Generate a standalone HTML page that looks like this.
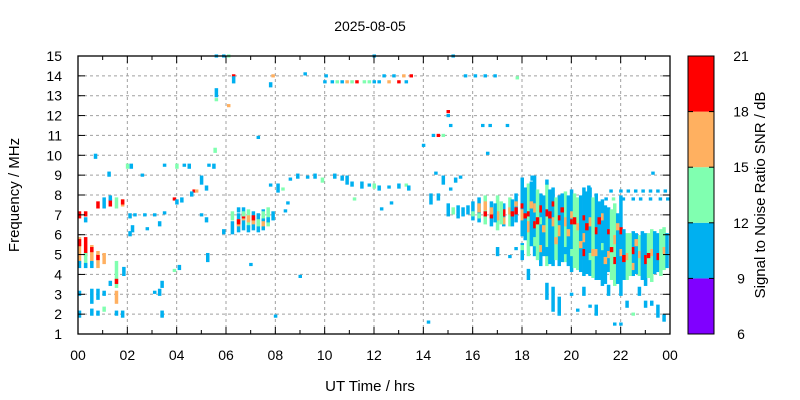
<!DOCTYPE html>
<html><head><meta charset="utf-8"><style>
body{margin:0;background:#fff;}
svg{display:block;font-family:"Liberation Sans",sans-serif;}
</style></head><body>
<svg id="chart" width="800" height="400" viewBox="0 0 800 400" xmlns="http://www.w3.org/2000/svg">
<text x="370" y="31" font-size="14" text-anchor="middle">2025-08-05</text>
<g id="grid"></g>
<g id="marks"></g>
<g id="axes"></g>
<text x="370" y="391" font-size="15" text-anchor="middle">UT Time / hrs</text>
<text transform="translate(19,195) rotate(-90)" font-size="15" text-anchor="middle">Frequency / MHz</text>
<g id="cbar"></g>
<text transform="translate(765,195) rotate(-90)" font-size="15" text-anchor="middle">Signal to Noise Ratio SNR / dB</text>
</svg>
<script>
const xTicks=["00","02","04","06","08","10","12","14","16","18","20","22","00"];
const yTicks=[1,2,3,4,5,6,7,8,9,10,11,12,13,14,15];
const cbTicks=[6,9,12,15,18,21];
const cbColors=["#8000ff","#00b0f0","#80ffb0","#ffb060","#ff0000"];
// marks: [hour, freqLow MHz, freqHigh MHz, snr dB]
const marks=[
[0.05,6.9,7.1,19],[0.05,4.6,5.8,15],[0.05,4.4,4.6,10],[0.05,3.0,3.1,10],[0.05,1.9,2.1,10],[0.05,5.5,5.7,19],
[0.3,5.0,5.8,19],[0.3,4.4,5.0,14],[0.3,6.7,6.8,10],[0.3,7.0,7.1,19],[0.3,4.4,4.5,10],
[0.55,4.6,5.4,17],[0.55,5.2,5.3,19],[0.55,4.4,4.6,10],[0.55,2.6,3.2,10],[0.55,2.0,2.2,10],
[0.8,7.4,7.6,19],[0.8,4.4,5.1,15],[0.8,4.8,4.9,19],[0.8,2.8,3.2,10],[0.8,2.0,2.1,10],[0.7,9.9,10.0,10],
[1.05,7.4,7.8,10],[1.05,4.6,5.0,16],[1.05,3.0,3.1,10],[1.05,2.2,2.3,13],
[1.3,7.5,7.7,19],[1.3,7.8,7.9,10],[1.3,3.5,3.6,10],[1.25,9.0,9.1,10],
[1.55,7.4,7.8,13],[1.55,3.4,4.6,14],[1.55,3.6,3.7,19],[1.55,2.6,3.1,15],[1.55,2.0,2.1,10],
[1.8,7.5,7.7,15],[1.8,7.6,7.7,19],[1.8,1.9,2.1,10],[1.85,4.0,4.3,10],
[2.0,9.4,9.5,13],[2.15,9.4,9.5,10],[2.1,6.9,7.0,10],[2.2,6.2,6.4,10],[2.1,6.0,6.1,10],[2.3,7.0,7.0,10],
[2.7,7.0,7.0,10],[2.8,6.3,6.3,10],[2.6,9.0,9.0,10],[3.1,7.0,7.0,10],[3.3,6.5,6.6,10],[3.5,7.1,7.1,10],
[3.5,9.5,9.5,10],[3.1,3.1,3.1,10],[3.3,3.0,3.2,10],[3.4,3.4,3.6,10],[3.4,2.0,2.1,10],[3.4,1.9,1.9,10],
[3.9,7.8,7.8,19],[4.0,7.6,7.7,10],[4.2,7.7,7.8,10],[4.1,4.3,4.4,10],[3.9,4.2,4.2,13],[4.0,9.4,9.5,13],
[4.3,9.5,9.5,10],[4.5,9.4,9.5,10],[4.7,8.2,8.2,19],[4.8,8.2,8.2,16],[4.6,8.0,8.1,10],[5.0,8.6,8.9,10],
[5.3,9.5,9.5,10],[5.5,9.4,9.5,10],[5.2,8.3,8.4,10],[5.0,7.0,7.0,10],[5.2,6.7,6.8,10],[5.25,4.7,5.0,10],
[5.55,10.2,10.3,13],[5.6,13.0,13.3,10],[5.6,12.8,12.8,13],[5.6,15.0,15.0,10],[5.9,15.0,15.0,10],[6.1,15.0,15.0,13],
[5.9,6.1,6.2,10],[6.1,12.5,12.5,16],[6.3,14.0,14.0,19],[6.3,13.7,13.9,10],[6.5,7.2,7.3,10],
[6.25,6.1,6.6,10],[6.25,6.8,7.1,13],
[6.5,6.2,7.0,10],[6.5,6.5,6.7,16],[6.5,6.6,6.7,19],
[6.7,6.3,7.3,10],[6.7,6.8,7.0,16],[6.7,6.9,7.0,19],[6.7,7.0,7.1,13],
[6.9,6.4,7.2,13],[6.9,6.7,6.9,16],[6.9,6.2,6.4,10],
[7.1,6.3,7.1,10],[7.1,6.6,6.8,15],[7.1,6.8,6.9,19],
[7.3,6.2,7.0,10],[7.3,6.5,6.7,13],[7.3,10.9,10.9,10],[7.0,4.5,4.5,10],
[7.5,6.3,7.2,10],[7.5,6.9,7.1,13],[7.5,6.5,6.6,16],
[7.7,6.5,7.3,13],[7.7,6.7,6.8,10],[7.8,8.5,8.5,10],[7.8,13.5,13.6,10],[7.9,14.0,14.0,16],[7.9,6.8,7.1,10],
[8.0,1.9,1.9,10],[8.1,8.2,8.5,10],[8.3,8.3,8.3,13],[8.4,7.2,7.2,10],[8.5,7.6,7.6,10],[8.6,8.8,8.8,10],
[8.9,8.9,9.0,10],[9.0,3.9,3.9,10],[9.2,14.1,14.1,10],[9.3,8.9,8.9,10],[9.6,8.9,9.0,10],[9.9,8.7,8.8,13],
[10.0,13.7,13.7,10],[10.05,14.0,14.0,10],[10.3,13.7,13.7,10],[10.5,13.7,13.7,13],[10.7,13.7,13.7,10],
[10.9,13.7,13.7,16],[11.1,13.7,13.7,13],[11.3,13.7,13.7,19],[11.6,13.7,13.7,13],[11.8,13.7,13.7,13],
[12.0,13.7,13.7,10],[12.2,13.7,13.7,10],[10.4,8.9,9.0,10],[10.7,8.8,8.9,10],[10.9,8.6,8.9,10],
[11.1,8.5,8.6,10],[11.2,7.8,7.8,13],[11.5,8.4,8.6,10],[11.8,8.5,8.5,10],[12.0,8.4,8.5,13],
[12.3,7.3,7.3,10],[12.2,8.3,8.4,10],[12.6,8.4,8.4,10],[12.7,7.6,7.6,10],[13.0,8.4,8.5,10],
[13.3,8.5,8.5,13],[13.4,8.3,8.4,10],[12.0,15.0,15.0,10],[12.4,14.0,14.0,10],[12.8,14.0,14.0,10],
[13.2,14.0,14.0,16],[13.5,14.0,14.0,19],[12.6,13.7,13.7,16],[13.0,13.7,13.7,19],[13.3,13.7,13.7,10],
[14.0,10.5,10.5,10],[14.2,1.6,1.6,10],[14.4,11.0,11.0,10],[14.6,11.0,11.0,19],[14.8,11.0,11.0,13],
[15.0,12.2,12.2,19],[15.1,11.5,11.5,10],[15.0,12.0,12.0,10],[15.2,15.0,15.0,10],[14.5,9.1,9.1,10],
[14.3,7.6,8.0,10],[14.6,7.8,8.0,10],[14.8,8.6,8.9,10],[15.1,8.3,8.3,10],[15.3,8.7,8.8,10],[15.5,8.9,8.9,10],
[15.0,7.0,7.5,10],[15.2,7.1,7.3,13],[15.4,6.9,7.4,10],[15.6,7.0,7.3,10],[15.8,7.1,7.4,10],
[15.7,14.0,14.0,10],[16.1,14.0,14.0,10],[16.5,14.0,14.0,10],[16.9,14.0,14.0,10],[16.4,11.5,11.5,10],
[16.7,11.5,11.5,10],[17.4,11.5,11.5,10],[16.6,10.1,10.1,10],[17.8,13.9,13.9,13],
[16.0,6.8,7.6,10],[16.0,7.0,7.1,13],
[16.25,6.7,7.8,10],[16.25,7.2,7.5,16],[16.25,6.9,7.0,13],
[16.5,6.6,7.9,13],[16.5,7.0,7.1,19],[16.5,7.3,7.6,16],
[16.75,6.5,7.6,10],[16.75,6.9,7.0,19],[16.75,7.1,7.3,15],
[17.0,6.3,7.9,13],[17.0,6.8,7.1,16],[17.0,5.0,5.3,10],
[17.25,6.5,7.5,10],[17.25,7.0,7.2,19],[17.25,6.6,6.8,16],
[17.5,6.5,7.8,13],[17.5,7.1,7.3,16],[17.5,4.9,4.9,10],
[17.75,6.7,8.0,10],[17.75,7.1,7.3,19],[17.75,7.5,7.6,16],[17.75,5.3,5.3,10],
[18.0,6.0,8.8,10],[18.0,6.8,7.2,16],[18.0,7.4,7.5,19],[18.0,4.8,5.5,10],[18.0,5.3,5.4,13],
[18.25,5.0,8.5,13],[18.25,6.2,6.6,16],[18.25,7.0,7.1,19],[18.25,3.8,4.2,10],
[18.5,5.0,8.9,10],[18.5,6.4,6.6,19],[18.5,7.2,7.5,16],[18.5,5.5,5.8,13],
[18.75,4.5,8.0,10],[18.75,7.2,7.4,19],[18.75,5.2,5.4,16],[18.75,6.6,6.8,13],
[19.0,4.5,8.5,13],[19.0,7.0,7.2,19],[19.0,5.0,5.3,10],[19.0,2.8,3.5,10],
[19.25,4.5,8.3,10],[19.25,6.5,6.8,16],[19.25,7.5,7.6,19],[19.25,2.2,3.3,10],
[19.5,4.5,7.9,10],[19.5,6.0,6.4,16],[19.5,6.8,6.9,19],[19.5,2.0,2.8,10],
[19.75,4.7,8.1,13],[19.75,6.5,6.8,16],[19.75,5.1,5.3,10],
[20.0,4.2,8.2,10],[20.0,6.6,6.7,19],[20.0,6.9,7.1,16],[20.0,3.0,3.0,10],[20.0,5.0,5.2,13],
[20.25,4.3,7.8,13],[20.25,6.3,6.5,16],[20.25,2.2,2.2,10],
[20.5,4.0,8.3,10],[20.5,6.8,6.9,19],[20.5,5.0,5.2,19],[20.5,5.7,6.0,16],[20.5,3.0,3.3,10],
[20.75,4.0,8.3,10],[20.75,6.5,6.8,16],[20.75,4.8,5.0,13],[20.75,2.4,2.4,10],
[21.0,3.8,8.0,10],[21.0,6.1,6.3,19],[21.0,5.0,5.2,16],[21.0,2.0,2.4,10],
[21.25,3.5,7.7,10],[21.25,6.8,7.0,16],[21.25,5.3,5.5,13],
[21.5,4.2,7.3,10],[21.5,6.1,6.2,19],[21.5,4.9,5.1,16],[21.5,3.0,3.4,10],
[21.75,3.5,7.5,13],[21.75,5.6,5.9,16],[21.75,4.6,4.8,19],[21.75,1.5,1.5,10],
[22.0,3.0,7.9,10],[22.0,5.0,5.2,16],[22.0,6.1,6.3,19],[22.0,1.5,1.5,10],
[22.25,3.8,6.0,13],[22.25,4.8,5.0,16],[22.25,2.4,2.6,10],
[22.5,4.0,6.1,10],[22.5,5.1,5.3,19],[22.5,4.3,4.5,16],[22.5,2.0,2.0,13],
[22.75,4.0,5.9,13],[22.75,4.9,5.1,16],[22.75,3.0,3.3,10],
[23.0,3.5,6.0,10],[23.0,4.6,4.9,19],[23.0,2.4,2.6,10],
[23.25,3.7,6.2,13],[23.25,5.0,5.2,16],[23.25,2.5,2.6,10],
[23.5,4.2,6.0,10],[23.5,4.8,5.0,19],[23.5,1.9,2.4,10],
[23.75,4.3,6.3,13],[23.75,5.1,5.3,16],[23.75,1.7,1.9,10],
[21.6,8.2,8.2,10],[22.0,8.2,8.2,10],[22.3,8.2,8.2,10],[22.6,8.2,8.2,10],[22.9,8.2,8.2,10],[23.2,8.2,8.2,10],[23.5,8.2,8.2,10],[23.8,8.2,8.2,10],
[21.4,7.8,7.8,10],[21.7,7.8,7.8,13],[22.1,7.8,7.8,10],[22.5,7.8,7.8,10],[22.8,7.8,7.8,10],[23.2,7.8,7.8,10],[23.6,7.8,7.8,10],[23.9,7.8,7.8,10],
[23.3,9.1,9.1,10],[20.7,8.2,8.4,10],[19.0,8.6,8.7,10],[18.4,8.8,8.9,10],
[16.9,6.7,7.5,10],[17.15,6.6,7.6,13],[17.6,6.5,7.7,10],[17.6,7.0,7.1,19],
[18.12,5.8,8.3,10],[18.12,6.9,7.0,19],[18.37,5.5,8.6,10],[18.37,7.4,7.6,16],
[18.62,4.8,8.2,13],[18.62,6.6,6.8,19],[18.87,5.0,7.9,10],[18.87,6.2,6.4,16],
[19.12,4.6,8.2,10],[19.12,6.9,7.1,19],[19.37,4.8,7.8,13],[19.37,5.6,5.8,16],
[19.62,4.7,8.0,10],[19.62,7.2,7.3,19],[19.87,4.5,7.9,10],[19.87,6.0,6.2,16],
[20.12,4.4,8.0,13],[20.12,6.6,6.8,19],[20.37,4.2,7.9,10],[20.37,5.4,5.6,16],
[20.62,4.1,8.1,10],[20.62,6.3,6.5,19],[20.87,3.9,7.8,13],[20.87,5.0,5.2,16],
[21.12,3.8,7.6,10],[21.12,6.6,6.8,19],[21.37,3.6,7.4,10],[21.37,4.6,4.8,16],
[21.62,3.8,7.2,13],[21.62,5.2,5.3,19],[21.87,3.6,7.0,10],[21.87,6.3,6.5,16],
[22.12,3.8,6.2,10],[22.12,4.7,4.9,19],[22.37,4.0,6.0,13],[22.62,4.1,6.0,10],[22.62,5.5,5.7,16],
[22.87,3.8,6.1,10],[23.12,3.9,6.0,13],[23.12,4.9,5.0,19],[23.37,4.1,6.1,10],[23.62,4.0,6.2,13],[23.87,4.4,6.0,10]
];
const NS="http://www.w3.org/2000/svg";
const X0=78,X1=670,Y0=334,Y1=56;
const xs=h=>X0+h*(X1-X0)/24;
const ys=f=>Y0-(f-1)*(Y0-Y1)/14;
function col(s){let i=Math.floor((s-6)/3);i=Math.max(0,Math.min(4,i));return cbColors[i];}
function mk(tag,attrs,parent){const e=document.createElementNS(NS,tag);for(const k in attrs)e.setAttribute(k,attrs[k]);parent.appendChild(e);return e;}
const grid=document.getElementById('grid'),axes=document.getElementById('axes'),mg=document.getElementById('marks'),cb=document.getElementById('cbar');
xTicks.forEach((t,i)=>{const x=xs(i*2);
 if(i>0&&i<xTicks.length-1){const l=mk('line',{x1:x,x2:x,y1:Y0,y2:Y1,stroke:'#a0a0a0','stroke-dasharray':'3,3'},grid);
 
 }
 const tx=mk('text',{x:x,y:360,'font-size':14,'text-anchor':'middle'},axes);tx.textContent=t;
 
 
});
for(let h=0;h<=24;h++){const x=xs(h);const len=h%2?4:7;
 mk('line',{x1:x,x2:x,y1:Y0,y2:Y0-len,stroke:'#000'},axes);mk('line',{x1:x,x2:x,y1:Y1,y2:Y1+len,stroke:'#000'},axes);}
yTicks.forEach(v=>{const y=ys(v);
 if(v>1&&v<15){const l=mk('line',{x1:X0,x2:X1,y1:y,y2:y,stroke:'#a0a0a0','stroke-dasharray':'3,3'},grid);
 
 }
 mk('line',{x1:X0,x2:X0+7,y1:y,y2:y,stroke:'#000'},axes);mk('line',{x1:X1,x2:X1-7,y1:y,y2:y,stroke:'#000'},axes);
 const tx=mk('text',{x:62,y:y+5,'font-size':14,'text-anchor':'end'},axes);tx.textContent=v;
 
 
});
mk('rect',{x:X0,y:Y1,width:X1-X0,height:Y0-Y1,fill:'none',stroke:'#000','stroke-width':1.3},axes);
marks.forEach(m=>{const y1=ys(m[2]+0.08),y2=ys(m[1]-0.08);
 const r=mk('rect',{x:xs(m[0])-1.5,y:y1,width:3.5,height:Math.max(3,y2-y1),fill:col(m[3])},mg);
 
 
});
const CX=688,CW=26,cy=v=>Y0-(v-6)*(Y0-Y1)/15;
cbColors.forEach((c,i)=>{const r=mk('rect',{x:CX,y:cy(cbTicks[i+1]),width:CW,height:cy(cbTicks[i])-cy(cbTicks[i+1]),fill:c},cb);
 
 });
mk('rect',{x:CX,y:Y1,width:CW,height:Y0-Y1,fill:'none',stroke:'#000'},cb);
cbTicks.forEach(v=>{const y=cy(v);mk('line',{x1:CX,x2:CX+5,y1:y,y2:y,stroke:'#000'},cb);mk('line',{x1:CX+CW,x2:CX+CW-5,y1:y,y2:y,stroke:'#000'},cb);
 const tx=mk('text',{x:741,y:y+5,'font-size':14,'text-anchor':'middle'},cb);tx.textContent=v;
 
 });
</script>
</body></html>
